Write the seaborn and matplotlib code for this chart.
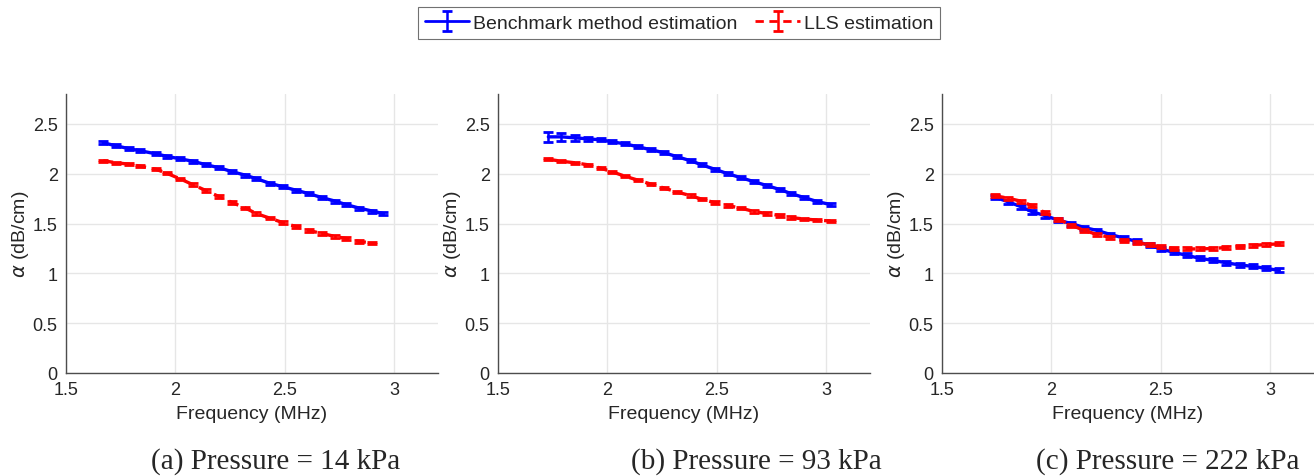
import pandas as pd
import numpy as np
import matplotlib.pyplot as plt
import seaborn as sns

# data
freq_a = [1.67, 1.73, 1.79, 1.84, 1.91, 1.96, 2.02, 2.08, 2.14, 2.20, 2.26, 2.32,
          2.37, 2.43, 2.49, 2.55, 2.61, 2.67, 2.73, 2.78, 2.84, 2.90, 2.95]
bench_a = [2.31, 2.28, 2.25, 2.23, 2.20, 2.175, 2.15, 2.125, 2.09, 2.06, 2.02, 1.985,
           1.95, 1.905, 1.87, 1.835, 1.80, 1.76, 1.725, 1.69, 1.655, 1.625, 1.60]
lls_a = [2.13, 2.11, 2.095, 2.075, 2.045, 2.005, 1.95, 1.89, 1.83, 1.77, 1.71, 1.655,
         1.60, 1.555, 1.51, 1.47, 1.43, 1.40, 1.37, 1.35, 1.32, 1.305]

freq_b = [1.73, 1.79, 1.85, 1.91, 1.97, 2.02, 2.08, 2.14, 2.20, 2.26, 2.32, 2.38,
          2.43, 2.49, 2.55, 2.61, 2.67, 2.73, 2.79, 2.84, 2.90, 2.96, 3.02]
bench_b = [2.37, 2.37, 2.36, 2.35, 2.34, 2.32, 2.30, 2.27, 2.24, 2.21, 2.17, 2.13,
           2.09, 2.045, 2.00, 1.96, 1.92, 1.88, 1.84, 1.80, 1.76, 1.72, 1.69]
bench_b_err = [0.05, 0.04, 0.03, 0.02, 0.015, 0.015, 0.015, 0.015, 0.015, 0.015, 0.015, 0.015,
               0.015, 0.015, 0.015, 0.015, 0.015, 0.015, 0.015, 0.015, 0.015, 0.015, 0.015]
lls_b = [2.145, 2.125, 2.11, 2.09, 2.055, 2.02, 1.975, 1.935, 1.895, 1.855, 1.815, 1.78,
         1.745, 1.71, 1.68, 1.655, 1.62, 1.60, 1.58, 1.56, 1.545, 1.535, 1.525]

freq_c = [1.74, 1.80, 1.86, 1.91, 1.97, 2.03, 2.09, 2.15, 2.21, 2.27, 2.33, 2.39,
          2.45, 2.50, 2.56, 2.62, 2.68, 2.74, 2.80, 2.86, 2.92, 2.98, 3.04]
bench_c = [1.766, 1.72, 1.67, 1.62, 1.58, 1.535, 1.50, 1.46, 1.43, 1.39, 1.355, 1.32,
           1.28, 1.245, 1.21, 1.18, 1.15, 1.13, 1.105, 1.085, 1.07, 1.05, 1.03]
lls_c = [1.78, 1.755, 1.725, 1.68, 1.61, 1.545, 1.485, 1.43, 1.39, 1.36, 1.33, 1.31,
         1.285, 1.265, 1.25, 1.245, 1.245, 1.25, 1.26, 1.27, 1.28, 1.29, 1.295]

captions = ['(a) Pressure = 14 kPa', '(b) Pressure = 93 kPa', '(c) Pressure = 222 kPa']

sns.set_theme(style='whitegrid')
plt.rcParams['font.family'] = ['Liberation Sans', 'DejaVu Sans']

fig = plt.figure(figsize=(13.14, 4.77), dpi=100)
W, H = 1314, 477
lefts = [66, 498, 942]
panels = [
    (freq_a, bench_a, [0.015] * len(bench_a), freq_a[:len(lls_a)], lls_a, 0.012),
    (freq_b, bench_b, bench_b_err, freq_b, lls_b, 0.012),
    (freq_c, bench_c, [0.02] * len(bench_c), freq_c, lls_c, 0.015),
]
cap_x = [276, 756, 1168]

handles = None
for i, (fb, yb, eb, fl, yl, el) in enumerate(panels):
    ax = fig.add_axes([lefts[i] / W, 1 - 374 / H, 372 / W, 279 / H])
    df_b = pd.DataFrame({'f': fb, 'a': yb})
    df_l = pd.DataFrame({'f': fl, 'a': yl})
    sns.lineplot(data=df_b, x='f', y='a', ax=ax, color='blue', lw=2.4, zorder=3)
    sns.lineplot(data=df_l, x='f', y='a', ax=ax, color='red', lw=2.4,
                 linestyle=(0, (3, 2)), zorder=4)
    h1 = ax.errorbar(fb, yb, yerr=eb, fmt='none', ecolor='blue', elinewidth=1.8,
                     capsize=3.5, capthick=2, zorder=3)
    h2 = ax.errorbar(fl, yl, yerr=el, fmt='none', ecolor='red', elinewidth=1.8,
                     capsize=3.5, capthick=2, zorder=4)
    if handles is None:
        handles = (h1, h2)
    ax.set_xlim(1.5, 3.2)
    ax.set_ylim(0, 2.8)
    ax.set_xticks([1.5, 2, 2.5, 3])
    ax.set_xticklabels(['1.5', '2', '2.5', '3'])
    ax.set_yticks([0, 0.5, 1, 1.5, 2, 2.5])
    ax.set_yticklabels(['0', '0.5', '1', '1.5', '2', '2.5'])
    ax.grid(True, color='#e6e6e6', lw=1.0)
    for s in ['top', 'right']:
        ax.spines[s].set_visible(False)
    for s in ['left', 'bottom']:
        ax.spines[s].set_color('#4d4d4d')
        ax.spines[s].set_linewidth(1.0)
    ax.tick_params(direction='in', length=3, width=0.8, color='#4d4d4d',
                   labelsize=13, labelcolor='#262626', pad=6)
    ax.tick_params(axis='y', pad=6)
    ax.set_xlabel('Frequency (MHz)', fontsize=14, color='#262626', labelpad=5)
    ax.set_ylabel(r'$\alpha$ (dB/cm)', fontsize=14, color='#262626', labelpad=1)
    fig.text(cap_x[i] / W, 1 - 462 / H, captions[i], ha='center', va='center',
             fontsize=21, family='Liberation Serif')

lines_b = plt.Line2D([], [], color='blue', lw=2)
lines_r = plt.Line2D([], [], color='red', lw=2, linestyle=(0, (3, 2)))
leg = fig.legend([(lines_b, handles[0]), (lines_r, handles[1])],
                 ['Benchmark method estimation', 'LLS estimation'],
                 loc='center', bbox_to_anchor=(679 / W, 1 - 24 / H), ncol=2,
                 fontsize=14, frameon=True, fancybox=False, handlelength=2.3,
                 handletextpad=0.2, columnspacing=0.9, borderpad=0.35)
leg.get_frame().set_edgecolor('#4d4d4d')
leg.get_frame().set_linewidth(0.8)

fig.savefig('out.png', dpi=100, facecolor='white')
